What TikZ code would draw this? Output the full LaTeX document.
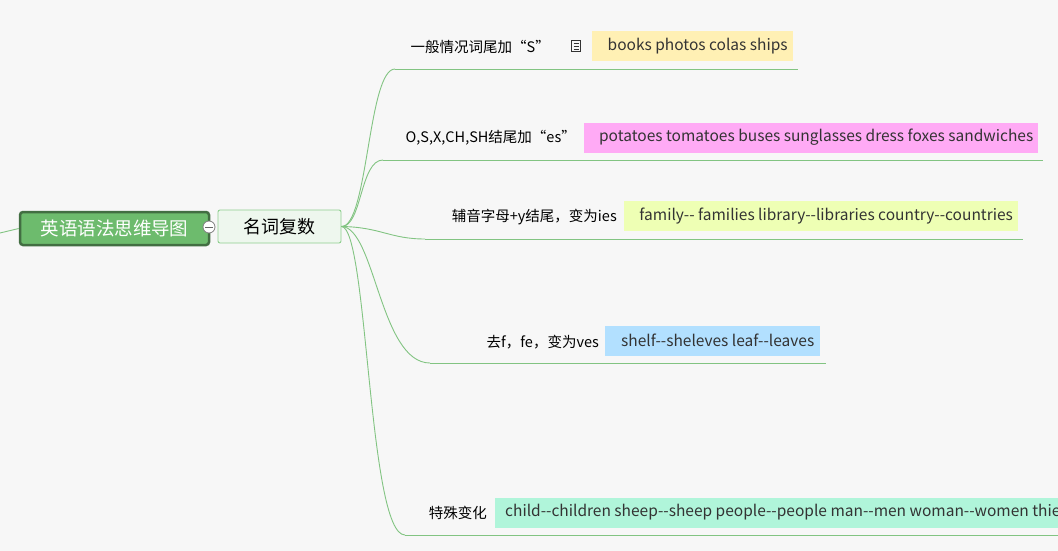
\documentclass[tikz,border=0pt]{standalone}
\usepackage{fontspec}
\setmainfont{Noto Sans CJK SC}
\newcommand{\dd}{-\kern0pt-}
\begin{document}
\begin{tikzpicture}[x=1pt,y=-1pt,
  lab/.style={inner sep=0pt,anchor=east,font=\fontsize{14.5}{16}\selectfont},
  hl/.style={anchor=west,inner sep=0pt,minimum height=30pt,text=black!80,font=\fontsize{15.5}{17}\selectfont,align=left}]
\useasboundingbox (0,0) rectangle (1058,551);
\fill[white!97!black] (0,0) rectangle (1058,551);
\clip (0,0) rectangle (1058,551);
\tikzset{br/.style={draw={rgb,255:red,130;green,196;blue,130},line width=0.9pt}}
\coordinate (L0) at (0,233);
\node[draw={rgb,255:red,66;green,110;blue,66},line width=2.5pt,rounded corners=3pt,fill={rgb,255:red,109;green,187;blue,109},minimum width=189pt,minimum height=33pt,text=white,font=\fontsize{18.5}{20}\selectfont,inner sep=0pt] (root) at (114.5,228.5) {英语语法思维导图};
\draw[br] (L0) -- (root.west);
\node[draw={rgb,255:red,143;green,207;blue,143},line width=0.9pt,rounded corners=2pt,fill={rgb,255:red,238;green,247;blue,238},minimum width=123pt,minimum height=33pt,font=\fontsize{18}{20}\selectfont,inner sep=0pt] (c) at (279.5,226.5) {名词复数};
\node[circle,draw=gray,fill=white,minimum size=12pt,inner sep=0pt,line width=0.8pt] (col) at (209,227) {};
\draw[gray!80!black,line width=1pt] (205,227) -- (213,227);
\coordinate (s1) at (395,69); \coordinate (e1) at (798,69);
\coordinate (s2) at (383,160); \coordinate (e2) at (1043,160);
\coordinate (s3) at (425,239); \coordinate (e3) at (1023,239);
\coordinate (s4) at (430,363); \coordinate (e4) at (826,363);
\coordinate (s5) at (405,535); \coordinate (e5) at (1058,535);
\foreach \i in {1,...,5}{\draw[br] (s\i) -- (e\i);}
\draw[br] (c.east) .. controls (368,227) and (368,69) .. (s1);
\draw[br] (c.east) .. controls (362,227) and (360,160) .. (s2);
\draw[br] (c.east) .. controls (380,227) and (390,239) .. (s3);
\draw[br] (c.east) .. controls (375,227) and (380,363) .. (s4);
\draw[br] (c.east) .. controls (368,227) and (368,535) .. (s5);
\node[lab] (t1) at (550,47) {一般情况词尾加“S”};
\node[draw=black!80,line width=0.9pt,minimum width=9pt,minimum height=11pt,inner sep=0pt] (ic) at (576,46) {};
\foreach \yy in {43,46,49}{\draw[black!80,line width=0.8pt] (573.5,\yy) -- (578.5,\yy);}
\node[hl,fill={rgb,255:red,255;green,240;blue,180},minimum width=201pt] (h1) at (592,46.5) {\hspace{10pt}books photos colas ships};
\node[lab] (t2) at (576,138) {O,S,X,CH,SH结尾加“es”};
\node[hl,fill={rgb,255:red,255;green,170;blue,245},minimum width=454pt] (h2) at (584,137.5) {\hspace{10pt}potatoes tomatoes buses sunglasses dress foxes sandwiches};
\node[lab] (t3) at (617,217) {辅音字母+y结尾，变为ies};
\node[hl,fill={rgb,255:red,238;green,255;blue,180},minimum width=394pt] (h3) at (624,216) {\hspace{10pt}family\dd{} families library\dd libraries country\dd countries};
\node[lab] (t4) at (599,342) {去f，fe，变为ves};
\node[hl,fill={rgb,255:red,178;green,224;blue,255},minimum width=215pt] (h4) at (605,340.5) {\hspace{10pt}shelf\dd sheleves leaf\dd leaves};
\node[lab] (t5) at (487,513) {特殊变化};
\node[hl,fill={rgb,255:red,176;green,245;blue,218},minimum width=600pt] (h5) at (495,512.5) {\hspace{10pt}child\dd children sheep\dd sheep people\dd people man\dd men woman\dd women thief\dd thieves\hfill};
\end{tikzpicture}
\end{document}
